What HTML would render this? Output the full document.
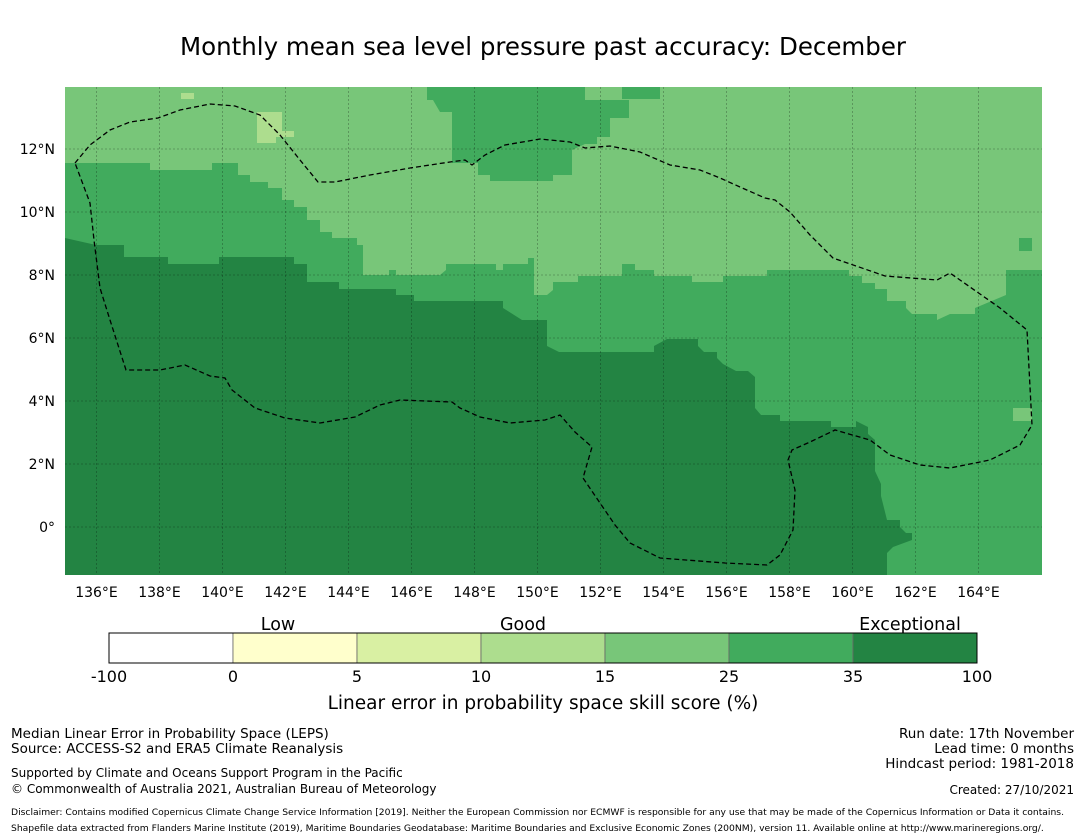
<!DOCTYPE html>
<html><head><meta charset="utf-8"><style>
body{margin:0;background:#fff;font-family:"Liberation Sans","DejaVu Sans",sans-serif;}
svg{display:block}
</style></head><body>
<svg width="1085" height="839" viewBox="0 0 1085 839" font-family="DejaVu Sans, Liberation Sans, sans-serif">
<text x="543" y="55" font-size="24.5" text-anchor="middle">Monthly mean sea level pressure past accuracy: December</text>
<defs><clipPath id="mc"><rect x="65" y="87" width="977" height="488"/></clipPath></defs>
<g clip-path="url(#mc)">
<rect x="65" y="87" width="977" height="488" fill="#78c679"/>
<polygon fill="#41ab5d" points="427,87 585,87 585,100 629,100 629,118 610,118 610,137 597,137 597,144 585,144 572,150 572,175 553,175 553,181 490,181 490,175 478,175 478,163 452,163 452,112 440,112 433,100 427,100"/>
<polygon fill="#41ab5d" points="622,87 660,87 660,99 622,99"/>
<polygon fill="#41ab5d" points="65,163 150,163 150,170 212,170 212,163 238,163 238,175 250,175 250,182 268,182 268,188 282,188 282,200 294,200 294,207 307,207 307,220 320,220 320,232 332,232 332,238 357,238 357,245 363,245 363,275 389,275 389,270 396,270 396,275 440,275 446,270 446,264 496,264 496,270 503,270 503,264 528,264 528,258 534,258 534,295 547,295 553,290 553,282 578,282 578,276 622,276 622,264 635,264 635,270 654,270 654,276 692,276 692,282 723,282 723,276 767,276 767,270 849,270 849,276 862,276 862,283 875,283 875,289 887,289 887,301 906,301 906,308 912,314 937,314 937,320 950,314 975,314 975,308 1006,295 1006,270 1042,270 1042,575 65,575"/>
<polygon fill="#238443" points="65,238 96,245 124,245 124,257 168,257 168,264 219,264 219,257 294,257 294,264 307,264 307,282 339,282 339,289 396,289 396,295 414,295 414,301 503,301 503,308 522,320 547,320 547,346 559,352 654,352 654,346 667,339 698,339 698,346 704,352 717,352 717,358 723,364 736,371 748,371 755,377 755,408 761,415 780,415 780,421 831,421 831,427 856,427 856,421 868,427 868,434 875,440 875,471 881,484 881,496 887,520 900,520 900,527 906,533 912,533 912,540 893,547 887,553 887,575 65,575"/>
<polygon fill="#addd8e" points="257,112 282,112 282,131 294,131 294,137 276,137 276,143 257,143"/>
<rect x="181" y="93" width="13" height="6" fill="#addd8e"/>
<rect x="1019" y="238" width="13" height="13" fill="#41ab5d"/>
<rect x="1013" y="408" width="19" height="13" fill="#78c679"/>
<g id="grid" stroke="#000" stroke-opacity="0.3" stroke-width="0.8" stroke-dasharray="2,2"></g>
<polyline fill="none" stroke="#000" stroke-width="1.3" stroke-dasharray="5,3" points="75,163 90,145 110,130 130,122 158,118 180,110 210,104 235,106 260,115 280,135 300,160 318,182 335,182 370,175 410,168 450,162 465,160 472,165 485,155 505,145 540,139 570,142 585,148 610,146 640,152 670,165 700,170 720,178 740,187 765,198 775,200 790,212 810,235 833,258 885,276 937,280 950,273 1000,308 1027,330 1032,425 1020,445 990,460 950,468 920,465 890,455 870,440 835,430 810,442 792,450 788,460 795,490 793,530 780,555 767,565 725,563 660,558 630,543 615,525 583,478 592,447 575,432 560,415 545,420 510,423 480,417 460,408 452,402 400,400 380,405 355,417 320,423 285,418 255,408 232,390 225,378 210,376 185,365 160,370 126,370 110,320 100,288 94,240 90,203 75,163"/>
</g>
<g id="ticks" font-size="14"></g>
<g id="cbar"></g>
<text x="278" y="630" font-size="17.5" text-anchor="middle">Low</text>
<text x="523" y="630" font-size="17.5" text-anchor="middle">Good</text>
<text x="910" y="630" font-size="17.5" text-anchor="middle">Exceptional</text>
<text x="543" y="709" font-size="18.5" text-anchor="middle">Linear error in probability space skill score (%)</text>
<g font-size="13.5">
<text x="11" y="738">Median Linear Error in Probability Space (LEPS)</text>
<text x="11" y="753">Source: ACCESS-S2 and ERA5 Climate Reanalysis</text>
<text x="11" y="777" font-size="12">Supported by Climate and Oceans Support Program in the Pacific</text>
<text x="11" y="793" font-size="12">© Commonwealth of Australia 2021, Australian Bureau of Meteorology</text>
</g>
<g font-size="13.5" text-anchor="end">
<text x="1074" y="738">Run date: 17th November</text>
<text x="1074" y="753">Lead time: 0 months</text>
<text x="1074" y="768">Hindcast period: 1981-2018</text>
<text x="1074" y="794" font-size="12">Created: 27/10/2021</text>
</g>
<text x="11" y="815" font-size="9.2">Disclaimer: Contains modified Copernicus Climate Change Service Information [2019]. Neither the European Commission nor ECMWF is responsible for any use that may be made of the Copernicus Information or Data it contains.</text>
<text x="11" y="831" font-size="9.2">Shapefile data extracted from Flanders Marine Institute (2019), Maritime Boundaries Geodatabase: Maritime Boundaries and Exclusive Economic Zones (200NM), version 11. Available online at http://www.marineregions.org/.</text>
</svg>
<script>
const lonTicks=[136,138,140,142,144,146,148,150,152,154,156,158,160,162,164];
const latTicks=[12,10,8,6,4,2,0];
const binEdges=["-100","0","5","10","15","25","35","100"];
const binColors=["#ffffff","#ffffcc","#d9f0a3","#addd8e","#78c679","#41ab5d","#238443"];
const NS="http://www.w3.org/2000/svg";
const X=lon=>65+(lon-135)*31.5;
const Y=lat=>527-lat*31.5;
function mk(tag,attrs,parent){const e=document.createElementNS(NS,tag);for(const k in attrs)e.setAttribute(k,attrs[k]);parent.appendChild(e);return e;}
const grid=document.getElementById('grid'),ticks=document.getElementById('ticks'),cb=document.getElementById('cbar');
lonTicks.forEach(l=>{
 const g=mk('line',{x1:X(l),x2:X(l),y1:87,y2:575},grid);
 
 
 const t=mk('text',{x:X(l),y:597,'text-anchor':'middle'},ticks);t.textContent=l+'°E';
 
 
});
latTicks.forEach(l=>{
 const g=mk('line',{x1:65,x2:1042,y1:Y(l),y2:Y(l)},grid);
 
 
 const t=mk('text',{x:55,y:Y(l)+5,'text-anchor':'end'},ticks);t.textContent=l===0?'0°':l+'°N';
 
 
});
const cx0=109,cw=124,cy=633,ch=30;
binColors.forEach((c,i)=>{
 const r=mk('rect',{x:cx0+i*cw,y:cy,width:cw,height:ch,fill:c,stroke:'#666','stroke-width':0.8},cb);
 
 
});
mk('rect',{x:cx0,y:cy,width:cw*binColors.length,height:ch,fill:'none',stroke:'#000','stroke-width':1},cb);
binEdges.forEach((v,i)=>{
 const t=mk('text',{x:cx0+i*cw,y:682,'text-anchor':'middle','font-size':16},cb);t.textContent=v;
 
 
});
</script>
</body></html>
